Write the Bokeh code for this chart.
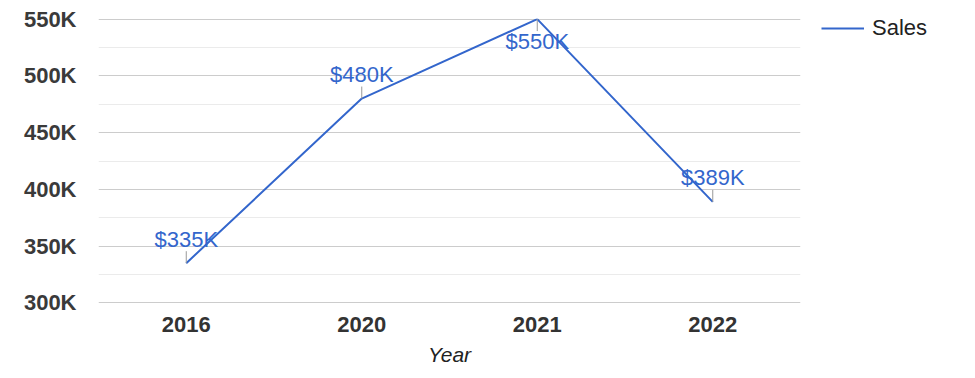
from bokeh.plotting import figure
from bokeh.models import (ColumnDataSource, Range1d, FixedTicker, CustomJSTickFormatter,
                          Legend, LegendItem)
from bokeh.core.properties import value
from bokeh.embed import file_html
from bokeh.resources import INLINE
import math

years = ["2016", "2020", "2021", "2022"]
sales = [335000, 480000, 550000, 389000]
labels = ["$335K", "$480K", "$550K", "$389K"]
label_above = [True, True, False, True]
y_major = [300000, 350000, 400000, 450000, 500000, 550000]
y_minor = [325000, 375000, 425000, 475000, 525000]

FONT = "Liberation Sans"
BLUE = "#3366cc"

src = ColumnDataSource(dict(
    x=years, y=sales, text=labels,
    yoff=[-24 if a else 22 for a in label_above],
    ang=[math.pi / 2 if a else -math.pi / 2 for a in label_above],
))

p = figure(frame_width=702, frame_height=285, x_range=years, y_range=Range1d(299500, 550500),
           output_backend="svg", toolbar_location=None,
           min_border_left=98, min_border_right=175, min_border_top=18, min_border_bottom=75)
p.outline_line_color = None
p.background_fill_color = "white"
p.border_fill_color = "white"

# grids
p.xgrid.grid_line_color = None
p.ygrid.grid_line_color = "#cccccc"
p.ygrid.minor_grid_line_color = "#ebebeb"

# y axis
p.yaxis.ticker = FixedTicker(ticks=y_major, minor_ticks=y_minor)
p.yaxis.formatter = CustomJSTickFormatter(code="return (tick/1000) + 'K';")
p.yaxis.axis_line_color = None
p.yaxis.major_tick_line_color = None
p.yaxis.minor_tick_line_color = None
p.yaxis.major_label_text_font = FONT
p.yaxis.major_label_text_font_size = "22px"
p.yaxis.major_label_text_font_style = "bold"
p.yaxis.major_label_text_color = "#3a3a3a"
p.yaxis.major_label_standoff = 16

# x axis
p.xaxis.axis_line_color = None
p.xaxis.major_tick_line_color = None
p.xaxis.minor_tick_line_color = None
p.xaxis.major_label_text_font = FONT
p.xaxis.major_label_text_font_size = "22px"
p.xaxis.major_label_text_font_style = "bold"
p.xaxis.major_label_text_color = "#333333"
p.xaxis.major_label_standoff = 7
p.xaxis.axis_label = "Year"
p.xaxis.axis_label_text_font = FONT
p.xaxis.axis_label_text_font_size = "21px"
p.xaxis.axis_label_text_font_style = "italic"
p.xaxis.axis_label_text_color = "#222222"
p.xaxis.axis_label_standoff = 8

line = p.line(x="x", y="y", source=src, line_color=BLUE, line_width=2)
p.ray(x="x", y="y", length=12, length_units="screen", angle="ang", source=src,
      line_color="#999999", line_width=1)
p.text(x="x", y="y", text="text", source=src, y_offset="yoff",
       text_align="center", text_baseline="alphabetic",
       text_font=value(FONT), text_font_size="22px", text_color=BLUE)

legend = Legend(items=[LegendItem(label="Sales", renderers=[line])],
                location=(21, 262), border_line_color=None, background_fill_alpha=0,
                padding=1, margin=0, glyph_width=43, label_standoff=8,
                label_text_font=FONT, label_text_font_size="22px", label_text_color="#222222")
p.add_layout(legend, "right")

open("out.html", "w").write(file_html(p, INLINE))
